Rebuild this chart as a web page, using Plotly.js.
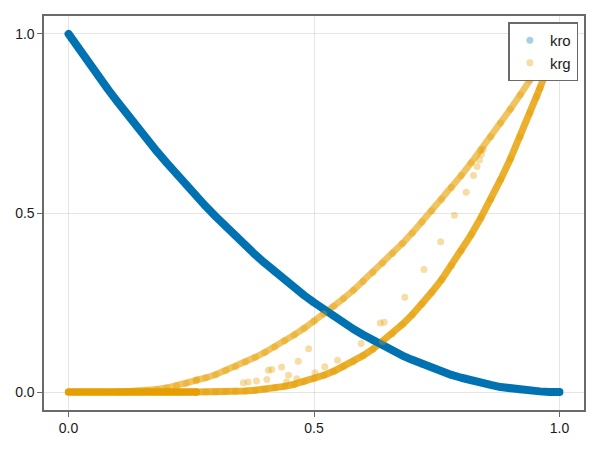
<!DOCTYPE html>
<html>
<head>
<meta charset="utf-8">
<script src="https://cdn.plot.ly/plotly-3.0.1.min.js"></script>
<style>
html,body{margin:0;padding:0;background:#fff;}
#chart{width:600px;height:450px;}
#chart .scatterlayer .js-line{stroke-linecap:round;stroke-linejoin:round;}
</style>
</head>
<body>
<div id="chart"></div>
<script>
// kro series
const kroS = [0,0.02,0.04,0.06,0.08,0.10,0.12,0.14,0.16,0.18,0.20,0.22,0.24,0.26,0.28,0.30,0.32,0.34,0.36,0.38,0.40,0.42,0.44,0.46,0.48,0.50,0.52,0.54,0.56,0.58,0.60,0.62,0.64,0.66,0.68,0.70,0.72,0.74,0.76,0.78,0.80,0.82,0.84,0.86,0.88,0.90,0.92,0.94,0.96,0.98,1.00];
const kroV = [1.000,0.960,0.922,0.884,0.846,0.810,0.774,0.740,0.706,0.672,0.640,0.608,0.578,0.548,0.518,0.490,0.462,0.436,0.410,0.384,0.360,0.336,0.314,0.292,0.270,0.250,0.230,0.212,0.194,0.176,0.160,0.144,0.130,0.116,0.102,0.090,0.078,0.068,0.058,0.048,0.040,0.032,0.026,0.020,0.014,0.010,0.006,0.004,0.002,0.000,0.000];

// krg: cells with zero gas relperm
const krgZeroS = [0,0.01,0.02,0.03,0.04,0.05,0.06,0.07,0.08,0.09,0.10,0.11,0.12,0.13,0.14,0.15,0.16,0.17,0.18,0.19,0.20,0.21,0.22,0.23,0.24,0.25,0.26];
const krgZeroV = [0,0,0,0,0,0,0,0,0,0,0,0,0,0,0,0,0,0,0,0,0,0,0,0,0,0,0];

// krg: upper branch
const krgUpS = [0.10,0.12,0.14,0.16,0.18,0.20,0.22,0.24,0.26,0.28,0.30,0.32,0.34,0.36,0.38,0.40,0.42,0.44,0.46,0.48,0.50,0.52,0.54,0.56,0.58,0.60,0.62,0.64,0.66,0.68,0.70,0.72,0.74,0.76,0.78,0.80,0.82,0.84,0.86,0.88,0.90,0.92,0.94,0.96];
const krgUpV = [0.000,0.001,0.002,0.004,0.008,0.012,0.018,0.024,0.032,0.040,0.049,0.060,0.071,0.084,0.097,0.111,0.126,0.143,0.160,0.178,0.198,0.218,0.239,0.261,0.284,0.309,0.334,0.360,0.387,0.415,0.444,0.475,0.506,0.538,0.571,0.605,0.640,0.676,0.713,0.751,0.790,0.830,0.871,0.913];

// krg: lower branch
const krgLowS = [0.26,0.28,0.30,0.32,0.34,0.36,0.38,0.40,0.42,0.44,0.46,0.48,0.50,0.52,0.54,0.56,0.58,0.60,0.62,0.64,0.66,0.68,0.70,0.72,0.74,0.76,0.78,0.80,0.82,0.84,0.86,0.88,0.90,0.92,0.94,0.96,0.98,1.00];
const krgLowV = [0.000,0.000,0.000,0.001,0.002,0.003,0.005,0.008,0.012,0.016,0.022,0.029,0.037,0.047,0.058,0.071,0.085,0.102,0.120,0.141,0.163,0.189,0.216,0.246,0.279,0.314,0.353,0.394,0.439,0.487,0.538,0.593,0.651,0.713,0.779,0.848,0.922,1.000];

// krg: scattered cells between branches
const krgMidS = [0.261,0.356,0.366,0.383,0.404,0.407,0.414,0.434,0.444,0.448,0.465,0.468,0.489,0.502,0.522,0.548,0.596,0.635,0.643,0.685,0.724,0.758,0.786,0.810,0.825,0.832,0.837,0.841,0.845,0.954];
const krgMidV = [0.035,0.026,0.028,0.031,0.035,0.061,0.063,0.070,0.028,0.047,0.037,0.086,0.121,0.054,0.071,0.089,0.136,0.193,0.195,0.265,0.342,0.420,0.494,0.558,0.605,0.630,0.648,0.663,0.678,0.825];

const blue = '#0072B2';
const orange = '#E69F00';
const krgS = krgZeroS.concat(krgUpS, krgLowS, krgMidS);
const krgV = krgZeroV.concat(krgUpV, krgLowV, krgMidV);

const traces = [
  {x: krgUpS, y: krgUpV, mode: 'lines', line: {color: 'rgba(230,159,0,0.62)', width: 6.5}, showlegend: false, hoverinfo: 'skip'},
  {x: krgLowS, y: krgLowV, mode: 'lines', line: {color: 'rgba(230,159,0,0.82)', width: 7}, showlegend: false, hoverinfo: 'skip'},
  {x: krgZeroS, y: krgZeroV, mode: 'lines', line: {color: orange, width: 7.5}, showlegend: false, hoverinfo: 'skip'},
  {x: kroS, y: kroV, mode: 'lines', line: {color: blue, width: 8}, showlegend: false, hoverinfo: 'skip'},
  {x: kroS, y: kroV, mode: 'markers', name: 'kro', marker: {color: blue, size: 7, opacity: 0.35, line: {width: 0}}},
  {x: krgS, y: krgV, mode: 'markers', name: 'krg', marker: {color: orange, size: 7, opacity: 0.35, line: {width: 0}}}
];

const axisCommon = {
  range: [-0.05, 1.05],
  tickvals: [0, 0.5, 1],
  ticktext: ['0.0', '0.5', '1.0'],
  showgrid: true,
  gridcolor: 'rgba(0,0,0,0.1)',
  gridwidth: 1,
  zeroline: false,
  showline: true,
  linecolor: '#6a6a6a',
  linewidth: 1.6,
  mirror: true,
  ticks: 'outside',
  ticklen: 5,
  tickcolor: '#6a6a6a',
  tickwidth: 1,
  tickfont: {family: 'Liberation Sans, Arial, sans-serif', size: 14, color: '#1a1a1a'}
};

const layout = {
  width: 600, height: 450,
  margin: {l: 44, r: 16, t: 16, b: 39.5},
  paper_bgcolor: '#fff', plot_bgcolor: '#fff',
  xaxis: Object.assign({}, axisCommon),
  yaxis: Object.assign({}, axisCommon),
  showlegend: true,
  legend: {
    x: 0.9894, y: 0.984, xanchor: 'right', yanchor: 'top',
    bgcolor: '#ffffff', bordercolor: '#6a6a6a', borderwidth: 1.6,
    font: {family: 'Liberation Sans, Arial, sans-serif', size: 15, color: '#1a1a1a'},
    itemwidth: 30
  }
};

Plotly.newPlot('chart', traces, layout, {staticPlot: true, displayModeBar: false});
</script>
</body>
</html>
